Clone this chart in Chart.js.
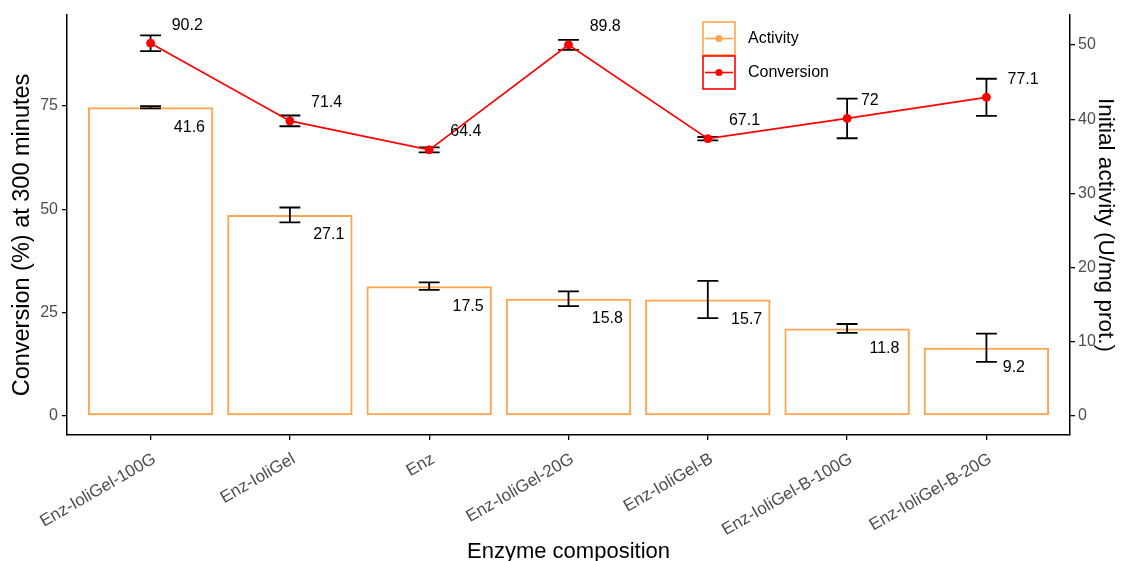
<!DOCTYPE html>
<html>
<head>
<meta charset="utf-8">
<script src="https://cdn.jsdelivr.net/npm/chart.js@4.4.1/dist/chart.umd.min.js"></script>
<style>
  html, body { margin: 0; padding: 0; background: #ffffff; overflow: hidden; }
  #wrap { width: 1124px; height: 561px; position: relative; }
</style>
</head>
<body>
<div id="wrap"><canvas id="chart"></canvas></div>
<script>
// Enzyme compositions on the x axis
const categories = ['Enz-IoliGel-100G', 'Enz-IoliGel', 'Enz', 'Enz-IoliGel-20G', 'Enz-IoliGel-B', 'Enz-IoliGel-B-100G', 'Enz-IoliGel-B-20G'];
// Initial activity (U/mg prot.), right axis, bars
const activity = [41.6, 27.1, 17.5, 15.8, 15.7, 11.8, 9.2];
const activityErr = [0.15, 1.0, 0.5, 1.0, 2.5, 0.6, 1.9];
// Conversion (%) at 300 minutes, left axis, line
const conversion = [90.2, 71.4, 64.4, 89.8, 67.1, 72, 77.1];
const conversionErr = [1.9, 1.3, 0.6, 1.2, 0.4, 4.8, 4.5];
// Axis tick values
const conversionTicks = [0, 25, 50, 75];
const activityTicks = [0, 10, 20, 30, 40, 50];

const FONT = "'Liberation Sans', Arial, Helvetica, sans-serif";
const ORANGE = '#FFA54F';
const RED = '#FF0000';
const TICK_GREY = '#4D4D4D';

// Error bars: drawn with the chart's own scales
const errorBars = {
  id: 'errorBars',
  draw(chart, idx) {
    const ds = chart.data.datasets[idx];
    if (!ds.errors) return;
    const x = chart.scales.x;
    const y = chart.scales[ds.yAxisID];
    const ctx = chart.ctx;
    ctx.save();
    ctx.strokeStyle = '#000000';
    ctx.lineWidth = 1.8;
    ds.data.forEach((pt, i) => {
      const e = ds.errors[i];
      const xc = x.getPixelForValue(pt.x);
      const xl = x.getPixelForValue(pt.x - 0.075);
      const xr = x.getPixelForValue(pt.x + 0.075);
      const yt = y.getPixelForValue(pt.y + e);
      const yb = y.getPixelForValue(pt.y - e);
      ctx.beginPath();
      ctx.moveTo(xc, yt); ctx.lineTo(xc, yb);
      ctx.moveTo(xl, yt); ctx.lineTo(xr, yt);
      ctx.moveTo(xl, yb); ctx.lineTo(xr, yb);
      ctx.stroke();
    });
    ctx.restore();
  },
  // bar whiskers over the bars, line whiskers under the points
  afterDatasetDraw(chart, args) {
    if (chart.data.datasets[args.index].type === 'bar') this.draw(chart, args.index);
  },
  beforeDatasetDraw(chart, args) {
    if (chart.data.datasets[args.index].type === 'line') this.draw(chart, args.index);
  }
};

// Value labels next to each bar top and each point
const valueLabels = {
  id: 'valueLabels',
  afterDatasetsDraw(chart) {
    const ctx = chart.ctx;
    const x = chart.scales.x;
    ctx.save();
    ctx.font = '16px ' + FONT;
    ctx.fillStyle = '#000000';
    ctx.textAlign = 'center';
    ctx.textBaseline = 'middle';
    chart.data.datasets.forEach(ds => {
      const y = chart.scales[ds.yAxisID];
      ds.data.forEach(pt => {
        const txt = String(pt.y);
        const w = ctx.measureText(txt).width;
        const px = x.getPixelForValue(pt.x);
        const py = y.getPixelForValue(pt.y);
        if (ds.type === 'line') {
          ctx.fillText(txt, px + 4 + 1.05 * w, py - 18);
        } else {
          ctx.fillText(txt, px - 1 + 1.28 * w, py + 20);
        }
      });
    });
    ctx.restore();
  }
};

// Boxed legend keys inside the panel
const boxLegend = {
  id: 'boxLegend',
  afterDraw(chart) {
    const ctx = chart.ctx;
    const left = 703, top = 22, kw = 32, kh = 33;
    ctx.save();
    chart.data.datasets.forEach((ds, i) => {
      const ky = top + i * (kh + 1);
      ctx.strokeStyle = ds.legendColor;
      ctx.lineWidth = 1.6;
      ctx.strokeRect(left, ky, kw, kh);
      ctx.beginPath();
      ctx.moveTo(left + 2, ky + kh / 2);
      ctx.lineTo(left + kw - 2, ky + kh / 2);
      ctx.stroke();
      ctx.fillStyle = ds.legendColor;
      ctx.beginPath();
      ctx.arc(left + kw / 2, ky + kh / 2, 3.6, 0, Math.PI * 2);
      ctx.fill();
      ctx.fillStyle = '#000000';
      ctx.font = '16px ' + FONT;
      ctx.textAlign = 'left';
      ctx.textBaseline = 'middle';
      ctx.fillText(ds.label, left + kw + 13, ky + kh / 2);
    });
    ctx.restore();
  }
};

// Left axis title
const leftTitle = {
  id: 'leftTitle',
  afterDraw(chart) {
    const ctx = chart.ctx;
    const a = chart.chartArea;
    ctx.save();
    ctx.translate(22.5, (a.top + a.bottom) / 2 + 10);
    ctx.rotate(-Math.PI / 2);
    ctx.font = '23.5px ' + FONT;
    ctx.fillStyle = '#000000';
    ctx.textAlign = 'center';
    ctx.textBaseline = 'middle';
    ctx.fillText('Conversion (%) at 300 minutes', 0, 0);
    ctx.restore();
  }
};

const axisLine = { display: true, color: '#000000', width: 1.5 };
const tickMarks = { display: true, drawOnChartArea: false, drawTicks: true, tickLength: 5, color: '#000000', lineWidth: 1.3, offset: false };

new Chart(document.getElementById('chart'), {
  data: {
    datasets: [
      {
        type: 'bar',
        label: 'Activity',
        yAxisID: 'y1',
        data: categories.map((c, i) => ({ x: i, y: activity[i] })),
        errors: activityErr,
        legendColor: ORANGE,
        backgroundColor: 'rgba(255,255,255,0)',
        borderColor: ORANGE,
        borderWidth: 2,
        borderSkipped: false,
        barPercentage: 0.9,
        categoryPercentage: 1.0,
        order: 2
      },
      {
        type: 'line',
        label: 'Conversion',
        yAxisID: 'y',
        data: categories.map((c, i) => ({ x: i, y: conversion[i] })),
        errors: conversionErr,
        legendColor: RED,
        borderColor: RED,
        borderWidth: 1.7,
        backgroundColor: RED,
        pointRadius: 4,
        pointBorderWidth: 1,
        pointBackgroundColor: RED,
        pointBorderColor: RED,
        tension: 0,
        order: 1
      }
    ]
  },
  options: {
    responsive: true,
    maintainAspectRatio: false,
    animation: false,
    devicePixelRatio: 1,
    layout: { padding: { top: 15, left: 0, right: 0, bottom: 0 } },
    plugins: { legend: { display: false }, tooltip: { enabled: false } },
    scales: {
      x: {
        type: 'linear',
        position: 'bottom',
        offset: false,
        min: -0.6,
        max: 6.6,
        afterBuildTicks: s => { s.ticks = categories.map((c, i) => ({ value: i })); },
        afterFit: s => { s.height = 126; },
        ticks: {
          autoSkip: false,
          minRotation: 30,
          maxRotation: 30,
          padding: 9,
          labelOffset: 4,
          color: TICK_GREY,
          font: { family: FONT, size: 17 },
          callback: v => categories[v]
        },
        grid: tickMarks,
        border: axisLine,
        title: {
          display: true,
          text: 'Enzyme composition',
          color: '#000000',
          font: { family: FONT, size: 22, lineHeight: 0.85 },
          padding: { top: 0, bottom: 0 }
        }
      },
      y: {
        type: 'linear',
        position: 'left',
        min: -4.597,
        max: 97.02,
        afterBuildTicks: s => { s.ticks = conversionTicks.map(v => ({ value: v })); },
        afterFit: s => { s.width = 67; },
        ticks: { padding: 4, color: TICK_GREY, font: { family: FONT, size: 16 } },
        grid: tickMarks,
        border: axisLine
      },
      y1: {
        type: 'linear',
        position: 'right',
        min: -2.561,
        max: 54.04,
        afterBuildTicks: s => { s.ticks = activityTicks.map(v => ({ value: v })); },
        afterFit: s => { s.width = 54; },
        ticks: { padding: 3, color: TICK_GREY, font: { family: FONT, size: 16 } },
        grid: tickMarks,
        border: axisLine,
        title: {
          display: true,
          text: 'Initial activity (U/mg prot.)',
          color: '#000000',
          font: { family: FONT, size: 22.5 },
          padding: { top: 5, bottom: 0 }
        }
      }
    }
  },
  plugins: [errorBars, valueLabels, boxLegend, leftTitle]
});
</script>
</body>
</html>
